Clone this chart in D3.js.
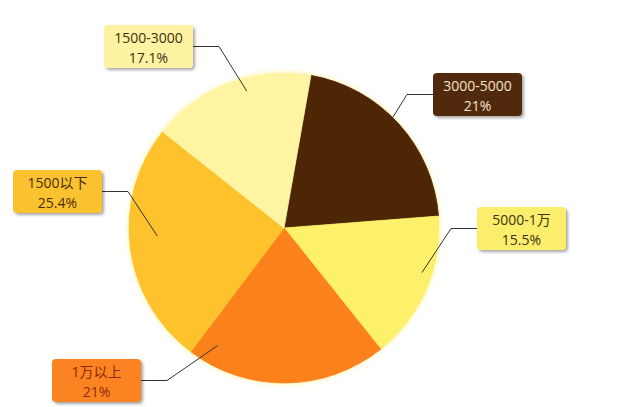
<!DOCTYPE html>
<html>
<head>
<meta charset="utf-8">
<script src="https://cdn.jsdelivr.net/npm/d3@7"></script>
<style>
  body { margin: 0; background: #fff; }
  svg { display: block; font-family: "Open Sans", "Noto Sans CJK SC", sans-serif; }
</style>
</head>
<body>
<svg id="chart" width="640" height="407"></svg>
<script>
// Data, clockwise from the top
var categories = ["3000-5000", "5000-1万", "1万以上", "1500以下", "1500-3000"];
var shares = [21, 15.5, 21, 25.4, 17.1];
var shareLabels = ["21%", "15.5%", "21%", "25.4%", "17.1%"];

var sliceColors = ["#4d2605", "#fdf06a", "#fb811b", "#fdc22c", "#fef4a2"];
var boxColors = ["#512b0c", "#fbee6c", "#fb8320", "#fac22f", "#fdf3a2"];
var textColors = ["#f7e3c6", "#3d3210", "#8c2b06", "#4a2c06", "#3d3010"];

// label box placement (top-left corner) and where the leader touches the slice
var labelLayout = [
	{bx: 433, by: 73, side: "right", f: 0.46, r: 152},
	{bx: 477, by: 207, side: "right", f: 0.40, r: 145},
	{bx: 52, by: 359, side: "left", f: 0.90, r: 135},
	{bx: 13, by: 170, side: "left", f: 0.54, r: 127},
	{bx: 104, by: 25, side: "left", f: 0.59, r: 142}
];
var boxW = 89, boxH = 43;

var cx = 284, cy = 228, radius = 155;

var svg = d3.select("#chart");
var defs = svg.append("defs");

var shadow = defs.append("filter").attr("id", "shadow")
	.attr("x", "-20%").attr("y", "-20%").attr("width", "150%").attr("height", "160%");
shadow.append("feDropShadow")
	.attr("dx", 2).attr("dy", 2).attr("stdDeviation", 1.6)
	.attr("flood-color", "#000").attr("flood-opacity", 0.35);

var glow = defs.append("filter").attr("id", "glow")
	.attr("x", "-10%").attr("y", "-10%").attr("width", "120%").attr("height", "120%");
glow.append("feGaussianBlur").attr("stdDeviation", 1.5);

var pie = d3.pie()
	.sort(null)
	.value(function(d) { return d; })
	.startAngle(10 * Math.PI / 180)
	.endAngle(370 * Math.PI / 180);

var arcs = pie(shares);
var arc = d3.arc().innerRadius(0).outerRadius(radius);

var g = svg.append("g").attr("transform", "translate(" + cx + "," + cy + ")");

// soft pale halo round the pie
g.append("circle")
	.attr("r", radius + 1)
	.attr("fill", "none")
	.attr("stroke", "#fff8cc")
	.attr("stroke-width", 3)
	.attr("filter", "url(#glow)");

g.selectAll("path.slice")
	.data(arcs)
	.enter().append("path")
		.attr("class", "slice")
		.attr("d", arc)
		.attr("fill", function(d, i) { return sliceColors[i]; })
		.attr("stroke", function(d, i) { return sliceColors[i]; })
		.attr("stroke-width", 0.8);

// Leader lines
arcs.forEach(function(a, i) {
	var lay = labelLayout[i];
	var ang = a.startAngle + lay.f * (a.endAngle - a.startAngle);
	var px = cx + lay.r * Math.sin(ang);
	var py = cy - lay.r * Math.cos(ang);
	var edgeX = lay.side === "right" ? lay.bx : lay.bx + boxW;
	var midY = lay.by + boxH / 2;
	var kneeX = lay.side === "right" ? edgeX - 26 : edgeX + 26;
	svg.append("path")
		.attr("d", d3.line()([[px, py], [kneeX, midY], [edgeX, midY]]))
		.attr("fill", "none")
		.attr("stroke", "#333")
		.attr("stroke-width", 1);
});

// Label boxes
var labels = svg.selectAll("g.label")
	.data(categories)
	.enter().append("g")
		.attr("class", "label")
		.attr("transform", function(d, i) {
			return "translate(" + labelLayout[i].bx + "," + labelLayout[i].by + ")";
		});

labels.append("rect")
	.attr("width", boxW)
	.attr("height", boxH)
	.attr("rx", 4)
	.attr("fill", function(d, i) { return boxColors[i]; })
	.attr("filter", "url(#shadow)");

labels.append("text")
	.attr("x", boxW / 2)
	.attr("y", 18)
	.attr("text-anchor", "middle")
	.style("font-size", "14px")
	.style("fill", function(d, i) { return textColors[i]; })
	.text(function(d) { return d; });

labels.append("text")
	.attr("x", boxW / 2)
	.attr("y", 38)
	.attr("text-anchor", "middle")
	.style("font-size", "14px")
	.style("fill", function(d, i) { return textColors[i]; })
	.text(function(d, i) { return shareLabels[i]; });
</script>
</body>
</html>
